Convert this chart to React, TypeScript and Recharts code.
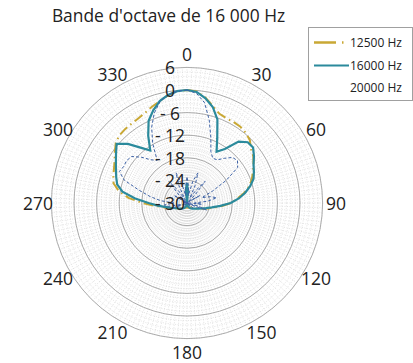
import React from "react";
import {
  RadarChart,
  Radar,
  PolarGrid,
  PolarAngleAxis,
  PolarRadiusAxis,
} from "recharts";

// angle (deg, clockwise from top) and level (dB) per band
const angles = [
  0, 5, 10, 15, 20, 25, 30, 35, 40, 45, 50, 55, 60, 65, 70, 75, 80, 85,
  90, 95, 100, 105, 110, 115, 120, 125, 130, 135, 140, 145, 150, 155, 160, 165, 170, 175,
  180, 185, 190, 195, 200, 205, 210, 215, 220, 225, 230, 235, 240, 245, 250, 255, 260, 265,
  270, 275, 280, 285, 290, 295, 300, 305, 310, 315, 320, 325, 330, 335, 340, 345, 350, 355,
];

const hz12500 = [
  0, -0.3, -1.6, -3.4, -4.8, -5.2, -5.2, -5.3, -5.7, -6.4, -7.8, -8.5, -9.6, -10.7, -11.7, -12.9, -14.6, -16.6,
  -18.3, -20.7, -22.8, -24.4, -25.6, -26.5, -27.1, -27.6, -27.9, -28.2, -28.4, -28.5, -28.6, -28.7, -28.7, -28.8, -28.8, -28.8,
  -28.8, -28.8, -28.8, -28.8, -28.7, -28.7, -28.6, -28.5, -28.3, -28.1, -27.9, -27.6, -27.2, -26.7, -26, -25, -23.6, -21.4,
  -18.2, -14.4, -11.6, -9.8, -9.2, -8.6, -7.8, -6.6, -5.3, -4.6, -4.4, -4.3, -4.1, -3.6, -2.8, -2, -1, -0.2,
];

const hz16000 = [
  0, -0.4, -1.8, -3.6, -6.4, -11, -14.3, -12.5, -8.7, -7.2, -7.1, -8.3, -9.6, -10.4, -11.2, -12.6, -14.3, -16.2,
  -18.4, -21.1, -23.3, -24.8, -25.8, -26.5, -27, -27.4, -27.7, -27.9, -28.1, -28.3, -28.5, -28.7, -28.9, -29.2, -30, -33.5,
  -35.3, -33, -29.8, -29.2, -28.9, -28.7, -28.5, -28.3, -28.1, -27.9, -27.7, -27.4, -27.1, -26.7, -26.1, -25.2, -24, -22.2,
  -19.8, -16.2, -12.6, -10.8, -10, -9.2, -8.2, -7, -5.6, -7.8, -10.8, -13, -9.4, -5.9, -3.8, -2, -0.9, -0.2,
];

const hz20000 = [
  0, -0.8, -3, -7.2, -11.5, -15, -16.3, -16, -14.5, -12.9, -12.5, -13.6, -18, -22.5, -25.8, -23.5, -22, -24.5,
  -28, -26, -31, -27, -24.5, -29, -34, -31, -28, -33, -37.5, -34, -31, -35, -38.5, -35, -32, -34,
  -37, -34.5, -32, -36, -38.5, -35, -31.5, -34, -37.5, -33, -29, -31, -34, -29.5, -26.5, -28.5, -25, -24,
  -26.5, -23, -20, -16.8, -12.3, -10.2, -10.6, -10.4, -10.8, -12.8, -15, -16.2, -11.8, -7.8, -4.6, -2.2, -0.8, -0.2,
];

const radialTicks = [-30, -24, -18, -12, -6, 0, 6];
const series = [
  { key: "f12500", name: "12500 Hz", color: "#c9a834", width: 2, dash: "10 4 1.5 4" },
  { key: "f16000", name: "16000 Hz", color: "#2b8a9c", width: 2.2, dash: undefined },
  { key: "f20000", name: "20000 Hz", color: "#3d62a6", width: 1, dash: "3 2" },
];

const data = angles.map((a, i) => ({
  angle: a,
  f12500: hz12500[i],
  f16000: hz16000[i],
  f20000: hz20000[i],
}));

const CX = 187;
const CY = 203;
const R = 135.6;
const LABEL_R = 149;
const MIN = -30;
const MAX = 6;
const FONT = "'Open Sans', 'Noto Sans', sans-serif";

const toR = (db: number) => ((db - MIN) / (MAX - MIN)) * R;
const minorRadii = Array.from({ length: 31 }, (_, i) => toR(MIN + i * 1.2));
const majorRadii = radialTicks.map(toR);
const spokes = Array.from({ length: 180 }, (_, i) => i * 2);

function AngleTick(props: any) {
  const { x, y, payload } = props;
  const v = Number(payload?.value);
  if (v % 30 !== 0) return null;
  const dx = x - CX;
  const dy = y - CY;
  const d = Math.hypot(dx, dy) || 1;
  return (
    <text
      x={CX + (dx / d) * LABEL_R}
      y={CY + (dy / d) * LABEL_R}
      textAnchor="middle"
      dominantBaseline="central"
      fontSize={17.5}
      fontFamily={FONT}
      fill="#222"
    >
      {v}
    </text>
  );
}

function RadiusTick(props: any) {
  const { x, y, payload } = props;
  const v = Number(payload?.value);
  const label = v < 0 ? `- ${Math.abs(v)}` : String(v);
  return (
    <text
      x={x - 17}
      y={y}
      textAnchor="middle"
      dominantBaseline="central"
      fontSize={17.5}
      fontFamily={FONT}
      fill="#222"
    >
      {label}
    </text>
  );
}

function LegendBox() {
  return (
    <div
      style={{
        position: "absolute",
        left: 308,
        top: 27,
        width: 103,
        height: 72,
        border: "1px solid #a0a0a0",
        background: "#fff",
        fontFamily: FONT,
        fontSize: 12,
        color: "#222",
      }}
    >
      {series.map((s, i) => (
        <div
          key={s.key}
          style={{ position: "absolute", left: 0, top: 4 + i * 22.5, height: 20, width: 103 }}
        >
          <svg width={40} height={20} style={{ position: "absolute", left: 0, top: 0 }}>
            {i === 0 && (
              <line x1={5} x2={40} y1={10.5} y2={10.5} stroke={s.color} strokeWidth={2.5} strokeDasharray="22 6 1.5 20" />
            )}
            {i === 1 && (
              <line x1={5} x2={40} y1={10.5} y2={10.5} stroke={s.color} strokeWidth={2.2} />
            )}
          </svg>
          <span style={{ position: "absolute", left: 41, top: 2, whiteSpace: "nowrap" }}>{s.name}</span>
        </div>
      ))}
    </div>
  );
}

export default function App() {
  return (
    <div style={{ position: "absolute", left: 0, top: 0, width: 413, height: 363, background: "#fff" }}>
      <div
        style={{
          position: "absolute",
          left: 0,
          width: 337,
          top: 3,
          textAlign: "center",
          fontFamily: FONT,
          fontSize: 17.4,
          color: "#222",
          whiteSpace: "nowrap",
        }}
      >
        Bande d'octave de 16 000 Hz
      </div>
      <RadarChart
        width={413}
        height={363}
        data={data}
        cx={CX}
        cy={CY}
        outerRadius={R}
        innerRadius={0}
        margin={{ top: 0, right: 0, bottom: 0, left: 0 }}
        style={{ position: "absolute", left: 0, top: 0 }}
      >
        <PolarGrid
          gridType="circle"
          polarAngles={spokes}
          polarRadius={minorRadii}
          stroke="#cfcfcf"
          strokeWidth={0.6}
          strokeDasharray="1 1.5"
        />
        <PolarGrid
          gridType="circle"
          radialLines={false}
          polarRadius={majorRadii}
          stroke="#9a9a9a"
          strokeWidth={0.8}
        />
        <PolarAngleAxis
          dataKey="angle"
          tick={AngleTick}
          tickLine={false}
          axisLine={false}
          tickSize={13}
        />
        {series.map((s) => (
          <Radar
            key={s.key}
            dataKey={s.key}
            name={s.name}
            stroke={s.color}
            strokeWidth={s.width}
            strokeDasharray={s.dash}
            fill="none"
            fillOpacity={0}
            dot={false}
            isAnimationActive={false}
          />
        ))}
        <PolarRadiusAxis
          angle={90}
          domain={[MIN, MAX]}
          allowDataOverflow
          ticks={radialTicks}
          tickCount={7}
          axisLine={false}
          tickLine={false}
          tick={RadiusTick}
        />
      </RadarChart>
      <LegendBox />
    </div>
  );
}
